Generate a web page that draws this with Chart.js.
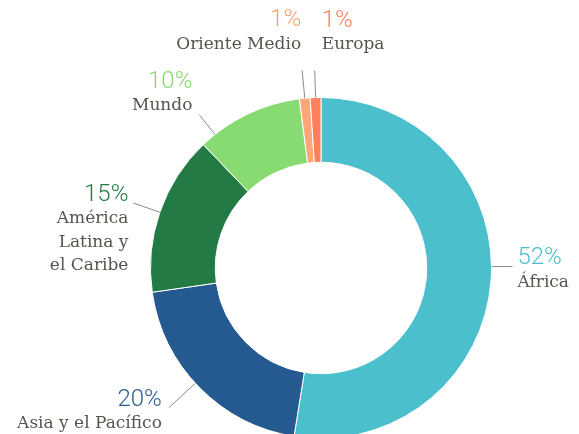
<!DOCTYPE html>
<html>
<head>
<meta charset="utf-8">
<script src="https://cdn.jsdelivr.net/npm/chart.js@4/dist/chart.umd.min.js"></script>
<style>
  html, body { margin: 0; padding: 0; background: #fff; overflow: hidden; }
  #wrap { width: 579px; height: 434px; overflow: hidden; }
</style>
</head>
<body>
<div id="wrap"><canvas id="donut" width="579" height="440"></canvas></div>
<script>
const regions = ['África', 'Asia y el Pacífico', 'América Latina y el Caribe', 'Mundo', 'Oriente Medio', 'Europa'];
const shares = [52, 20, 15, 10, 1, 1];
const nameLines = [['África'], ['Asia y el Pacífico'], ['América', 'Latina y', 'el Caribe'], ['Mundo'], ['Oriente Medio'], ['Europa']];
const sliceColors = ['#4bbfcc', '#245a8f', '#237a45', '#88db72', '#ffa57a', '#ff7f5a'];
const pctColors = ['#4bbfcc', '#2a5e94', '#237a45', '#88db72', '#ff9f70', '#ff7f5a'];

// leader length, angle shift (deg), text side, offsets from leader end
const labelStyle = [
  { len: 21, shift: -5, align: 'left', dx: 5, dy: -8 },
  { len: 36, shift: 2, align: 'right', dx: -7, dy: -8 },
  { len: 28, shift: 0, align: 'right', dx: -5, dy: -8 },
  { len: 25, shift: -13, align: 'right', dx: -7, dy: -33 },
  { len: 28, shift: 0, align: 'right', dx: -1, dy: -50 },
  { len: 27, shift: 0, align: 'left', dx: 7, dy: -50 }
];

const calloutPlugin = {
  id: 'callouts',
  afterDatasetsDraw(chart) {
    const ctx = chart.ctx;
    const arcs = chart.getDatasetMeta(0).data;
    ctx.save();
    arcs.forEach((arc, i) => {
      const p = arc.getProps(['x', 'y', 'startAngle', 'endAngle', 'outerRadius'], true);
      const s = labelStyle[i];
      const mid = (p.startAngle + p.endAngle) / 2 + s.shift * Math.PI / 180;
      const x0 = p.x + Math.cos(mid) * p.outerRadius;
      const y0 = p.y + Math.sin(mid) * p.outerRadius;
      const x1 = p.x + Math.cos(mid) * (p.outerRadius + s.len);
      const y1 = p.y + Math.sin(mid) * (p.outerRadius + s.len);
      ctx.strokeStyle = '#8a8a8a';
      ctx.lineWidth = 1;
      ctx.beginPath();
      ctx.moveTo(x0, y0);
      ctx.lineTo(x1, y1);
      ctx.stroke();

      const tx = x1 + s.dx;
      const ty = y1 + s.dy;
      ctx.textAlign = s.align;
      ctx.textBaseline = 'middle';
      ctx.fillStyle = pctColors[i];
      ctx.font = '300 24px Roboto';
      ctx.fillText(shares[i] + '%', tx, ty);
      ctx.fillStyle = '#55554d';
      ctx.font = '17px "DejaVu Serif"';
      nameLines[i].forEach((line, k) => {
        ctx.fillText(line, tx, ty + 24 + k * 23.5);
      });
    });
    ctx.restore();
  }
};

new Chart(document.getElementById('donut'), {
  type: 'doughnut',
  data: {
    labels: regions,
    datasets: [{
      data: shares,
      backgroundColor: sliceColors,
      borderColor: '#ffffff',
      borderWidth: 1
    }]
  },
  options: {
    responsive: false,
    animation: false,
    cutout: '62%',
    layout: { padding: { left: 150, right: 87, top: 97, bottom: 1 } },
    plugins: { legend: { display: false }, tooltip: { enabled: false } }
  },
  plugins: [calloutPlugin]
});
</script>
</body>
</html>
